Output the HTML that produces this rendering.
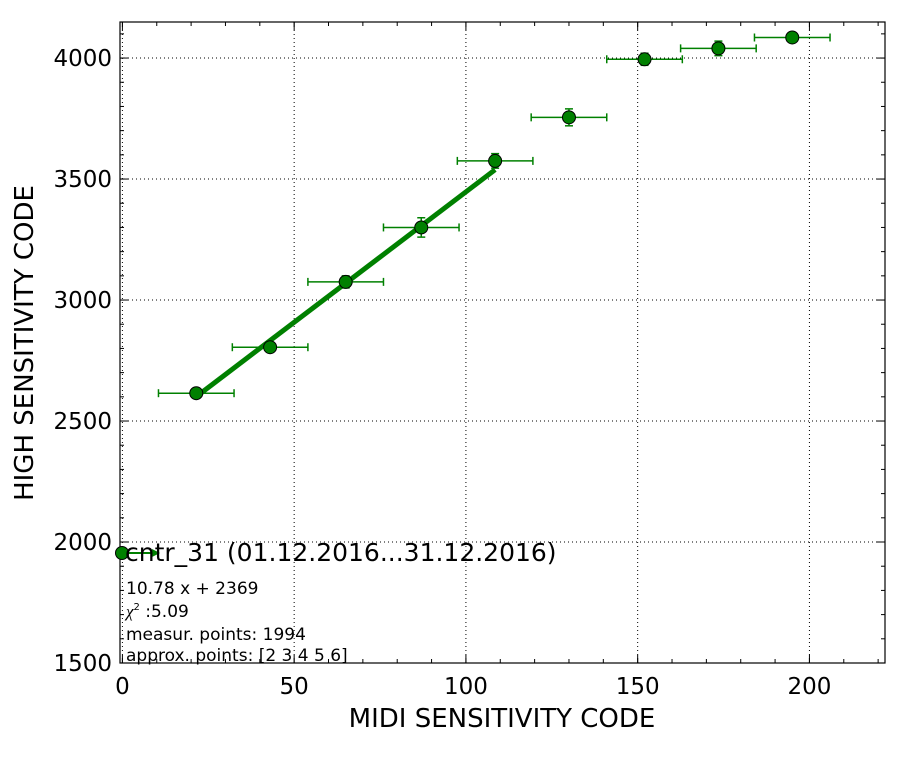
<!DOCTYPE html>
<html><head><meta charset="utf-8"><style>
body{margin:0;background:#fff;font-family:"Liberation Sans","DejaVu Sans",sans-serif}
</style></head><body>
<svg id="chart" width="912" height="762" xmlns="http://www.w3.org/2000/svg" font-family="DejaVu Sans, Liberation Sans, sans-serif">
<g id="grid"></g>
<g id="ticks"></g>
<g id="series"></g>
<rect x="120" y="22" width="765" height="641" fill="none" stroke="#000" stroke-width="1.2"/>
<text x="502" y="727" font-size="26" text-anchor="middle">MIDI SENSITIVITY CODE</text>
<text transform="translate(33,343) rotate(-90)" font-size="26" text-anchor="middle">HIGH SENSITIVITY CODE</text>
<g>
<line x1="122" y1="553" x2="158" y2="553" stroke="#008000" stroke-width="2"/>
<path d="M152,549 L160,553 L152,557 Z" fill="#008000"/>
<circle cx="122" cy="553" r="6.5" fill="#008000" stroke="#000"/>
<text x="125" y="561" font-size="25">cntr_31 (01.12.2016...31.12.2016)</text>
<text x="126" y="594" font-size="17">10.78 x + 2369</text>
<text x="126" y="617" font-size="17"><tspan font-family="Liberation Serif, serif" font-style="italic">χ</tspan><tspan font-size="10" dy="-7">2</tspan><tspan dy="7"> :5.09</tspan></text>
<text x="126" y="640" font-size="17">measur. points: 1994</text>
<text x="126" y="661" font-size="17">approx. points: [2 3 4 5 6]</text>
</g>
</svg>
<script>
const xs=[21.5,43,65,87,108.5,130,152,173.5,195];
const ys=[2615,2805,3075,3300,3575,3755,3995,4040,4085];
const xerr=[11,11,11,11,11,11,11,11,11];
const yerr=[12,15,25,40,30,35,25,30,15];
const fitSlope=10.78, fitIntercept=2369, fitFrom=21.5, fitTo=108.5;
const xTicks=[0,50,100,150,200];
const yTicks=[1500,2000,2500,3000,3500,4000];
const X0=-0.7,X1=222,Y0=1500,Y1=4149;
const L=120,R=885,T=22,B=663;
const sx=v=>L+(v-X0)/(X1-X0)*(R-L);
const sy=v=>B-(v-Y0)/(Y1-Y0)*(B-T);
const NS="http://www.w3.org/2000/svg";
function mk(tag,attrs,parent){const e=document.createElementNS(NS,tag);for(const k in attrs)e.setAttribute(k,attrs[k]);parent.appendChild(e);return e;}
const grid=document.getElementById('grid'),ticks=document.getElementById('ticks'),ser=document.getElementById('series');
xTicks.forEach(t=>{const x=sx(t);
 const g=mk('line',{x1:x,y1:T,x2:x,y2:B,stroke:'#000','stroke-width':1,'stroke-dasharray':'1,3'},grid);
 
 mk('line',{x1:x,y1:B,x2:x,y2:B-8,stroke:'#000'},ticks);mk('line',{x1:x,y1:T,x2:x,y2:T+8,stroke:'#000'},ticks);
 const tx=mk('text',{x:x,y:B+31,'font-size':23,'text-anchor':'middle'},ticks);tx.textContent=t;
 });
for(let v=0;v<=X1;v+=10){const x=sx(v);mk('line',{x1:x,y1:B,x2:x,y2:B-4,stroke:'#000'},ticks);mk('line',{x1:x,y1:T,x2:x,y2:T+4,stroke:'#000'},ticks);}
yTicks.forEach(t=>{const y=sy(t);
 const g=mk('line',{x1:L,y1:y,x2:R,y2:y,stroke:'#000','stroke-width':1,'stroke-dasharray':'1,3'},grid);
 
 mk('line',{x1:L,y1:y,x2:L+8,y2:y,stroke:'#000'},ticks);mk('line',{x1:R,y1:y,x2:R-8,y2:y,stroke:'#000'},ticks);
 const tx=mk('text',{x:L-8,y:y+8,'font-size':23,'text-anchor':'end'},ticks);tx.textContent=t;
 });
for(let v=1500;v<=Y1;v+=100){const y=sy(v);mk('line',{x1:L,y1:y,x2:L+4,y2:y,stroke:'#000'},ticks);mk('line',{x1:R,y1:y,x2:R-4,y2:y,stroke:'#000'},ticks);}
xs.forEach((x,i)=>{const cx=sx(x),cy=sy(ys[i]);
 const g=mk('g',{},ser);
 const a=sx(x-xerr[i]),b=sx(x+xerr[i]),u=sy(ys[i]+yerr[i]),d=sy(ys[i]-yerr[i]);
 mk('line',{x1:a,y1:cy,x2:b,y2:cy,stroke:'#008000','stroke-width':1.5},g);
 mk('line',{x1:a,y1:cy-4,x2:a,y2:cy+4,stroke:'#008000','stroke-width':1.5},g);
 mk('line',{x1:b,y1:cy-4,x2:b,y2:cy+4,stroke:'#008000','stroke-width':1.5},g);
 mk('line',{x1:cx,y1:u,x2:cx,y2:d,stroke:'#008000','stroke-width':1.5},g);
 mk('line',{x1:cx-4,y1:u,x2:cx+4,y2:u,stroke:'#008000','stroke-width':1.5},g);
 mk('line',{x1:cx-4,y1:d,x2:cx+4,y2:d,stroke:'#008000','stroke-width':1.5},g);
});
const fl=mk('line',{x1:sx(fitFrom),y1:sy(fitSlope*fitFrom+fitIntercept),x2:sx(fitTo),y2:sy(fitSlope*fitTo+fitIntercept),stroke:'#008000','stroke-width':5},ser);

xs.forEach((x,i)=>{const c=mk('circle',{cx:sx(x),cy:sy(ys[i]),r:6.5,fill:'#008000',stroke:'#000','stroke-width':1},ser);
 });
</script>
</body></html>
